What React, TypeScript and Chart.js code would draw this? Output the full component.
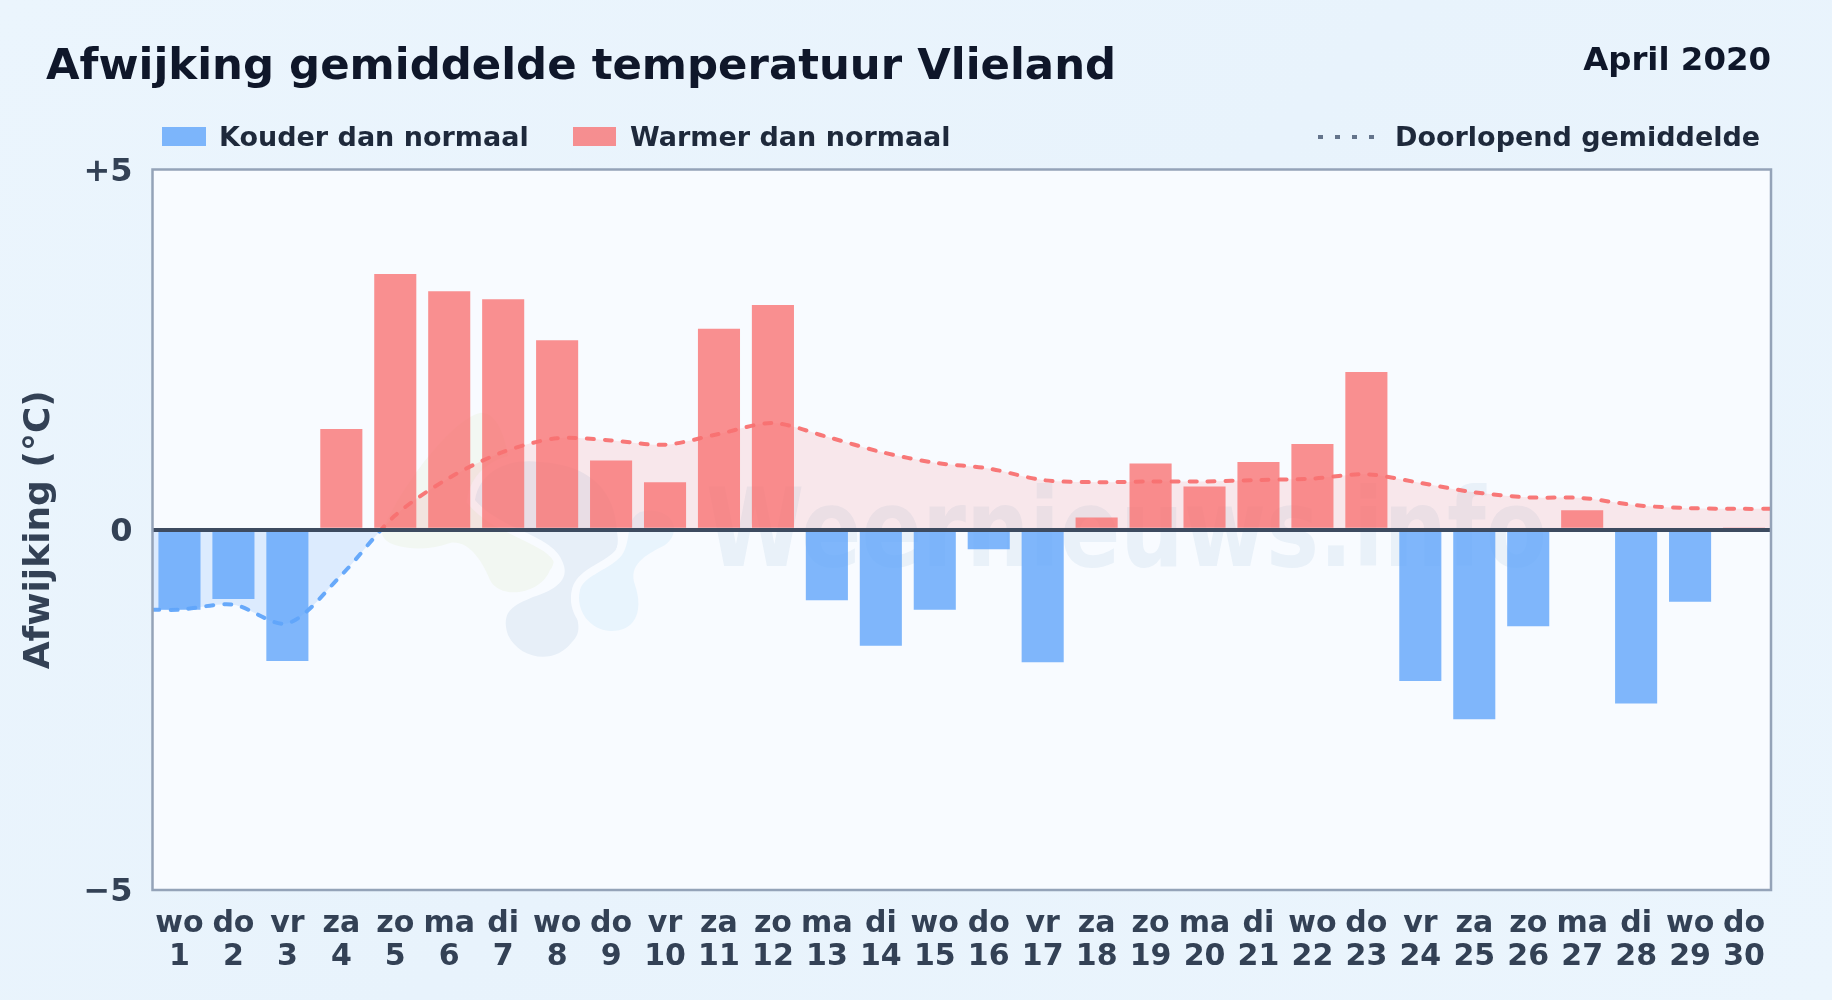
import React, { useEffect, useRef } from "react";
import { Chart, registerables } from "chart.js";

Chart.register(...registerables);

const weekdays = ["wo","do","vr","za","zo","ma","di","wo","do","vr","za","zo","ma","di","wo","do","vr","za","zo","ma","di","wo","do","vr","za","zo","ma","di","wo","do"];
const days = ["1","2","3","4","5","6","7","8","9","10","11","12","13","14","15","16","17","18","19","20","21","22","23","24","25","26","27","28","29","30"];
const deviation = [-1.11,-0.96,-1.82,1.40,3.55,3.31,3.20,2.63,0.96,0.66,2.79,3.12,-0.98,-1.61,-1.11,-0.27,-1.84,0.17,0.92,0.60,0.94,1.19,2.19,-2.10,-2.63,-1.34,0.27,-2.41,-1.00,0.03];
const runningMean = [-1.11,-1.04,-1.30,-0.63,0.20,0.72,1.08,1.27,1.24,1.18,1.33,1.48,1.29,1.08,0.93,0.85,0.69,0.66,0.67,0.67,0.69,0.71,0.77,0.65,0.52,0.45,0.44,0.34,0.30,0.29];
const yTickValues = [-5, 0, 5];
const yTickLabels = ["−5", "0", "+5"];
const titleText = "Afwijking gemiddelde temperatuur Vlieland";
const periodText = "April 2020";
const legendCold = "Kouder dan normaal";
const legendWarm = "Warmer dan normaal";
const legendMean = "Doorlopend gemiddelde";
const yAxisTitle = "Afwijking (°C)";
const watermark = "Weernieuws.info";

const FONT = '"DejaVu Sans", sans-serif';
const PLOT_BG = "#f8fbff";

const blob = (c: CanvasRenderingContext2D, color: string, pts: number[][], halo = false) => {
  c.beginPath();
  c.moveTo(pts[0][0], pts[0][1]);
  for (let i = 1; i < pts.length; i++) {
    const p = pts[i];
    c.bezierCurveTo(p[0], p[1], p[2], p[3], p[4], p[5]);
  }
  c.closePath();
  if (halo) {
    c.strokeStyle = PLOT_BG;
    c.lineWidth = 16;
    c.stroke();
  }
  c.fillStyle = color;
  c.fill();
};

const decorPlugin = {
  id: "decor",
  beforeDraw(chart: any) {
    const c = chart.ctx as CanvasRenderingContext2D;
    const a = chart.chartArea;
    c.save();
    c.fillStyle = PLOT_BG;
    c.fillRect(a.left, a.top, a.right - a.left, a.bottom - a.top);
    // logo blobs of the watermark
    blob(c, "#f2f7f2", [[385,525],[400,490,450,420,480,413],[500,410,510,450,510,480],[553,530,560,560,550,570],[540,595,500,600,490,580],[480,555,465,540,450,543],[430,550,410,550,395,545],[380,540,380,530,385,525]]);
    blob(c, "#e7eff8", [[475,500],[480,470,510,458,540,462],[590,465,615,490,617,532],[620,548,615,558,600,567],[580,575,570,585,572,600],[575,615,585,630,572,642],[555,665,520,660,508,635],[500,610,515,605,533,597],[555,590,570,580,563,563],[555,535,500,530,475,500]], true);
    blob(c, "#e8f4fd", [[640,512],[670,505,685,530,665,545],[645,555,628,565,635,585],[645,615,632,632,610,631],[590,630,575,610,580,590],[584,575,610,570,622,555],[632,540,625,520,640,512]], true);
    c.translate(706, 566);
    c.scale(0.825, 1);
    c.font = `bold 108px ${FONT}`;
    c.fillStyle = "rgba(30,110,170,0.065)";
    c.textAlign = "left";
    c.textBaseline = "alphabetic";
    c.fillText(watermark, 0, 0);
    c.restore();
  },
  afterDraw(chart: any) {
    const c = chart.ctx as CanvasRenderingContext2D;
    const a = chart.chartArea;
    c.save();
    c.strokeStyle = "#94a3b8";
    c.lineWidth = 2.5;
    c.strokeRect(a.left, a.top, a.right - a.left, a.bottom - a.top);

    c.textBaseline = "alphabetic";
    c.textAlign = "left";
    c.fillStyle = "#0f172a";
    c.font = `bold 43.4px ${FONT}`;
    c.fillText(titleText, 46, 79);
    c.textAlign = "right";
    c.font = `bold 32.4px ${FONT}`;
    c.fillText(periodText, 1771, 70);

    c.textAlign = "left";
    c.font = `bold 27px ${FONT}`;
    c.fillStyle = "rgba(96,165,250,0.8)";
    c.fillRect(162, 127, 44, 19);
    c.fillStyle = "rgba(248,113,113,0.78)";
    c.fillRect(573, 127, 43, 19);
    c.fillStyle = "#1e293b";
    c.fillText(legendCold, 219, 146);
    c.fillText(legendWarm, 630, 146);
    c.fillText(legendMean, 1395, 146);
    c.strokeStyle = "#64748b";
    c.lineWidth = 4;
    c.setLineDash([5, 12]);
    c.beginPath();
    c.moveTo(1318, 137);
    c.lineTo(1376, 137);
    c.stroke();
    c.restore();
  },
};

export default function App() {
  const ref = useRef<HTMLCanvasElement>(null);
  useEffect(() => {
    const lineData = [
      { x: 0.5, y: runningMean[0] },
      ...runningMean.map((y, i) => ({ x: i + 1, y })),
      { x: 30.5, y: runningMean[29] },
    ];
    const chart = new Chart(ref.current!, {
      type: "bar",
      data: {
        datasets: [
          {
            type: "line",
            label: legendMean,
            data: lineData,
            order: 0,
            tension: 0.3,
            pointRadius: 0,
            borderWidth: 4,
            borderDash: [7, 11],
            borderCapStyle: "round",
            borderColor: (ctx: any) => {
              const { chart: ch } = ctx;
              const a = ch.chartArea;
              if (!a) return "#f87171";
              const z = ch.scales.y.getPixelForValue(0);
              const t = (z - a.top) / (a.bottom - a.top);
              const g = ch.ctx.createLinearGradient(0, a.top, 0, a.bottom);
              g.addColorStop(0, "rgba(248,113,113,0.95)");
              g.addColorStop(t, "rgba(248,113,113,0.95)");
              g.addColorStop(t, "rgba(96,165,250,0.95)");
              g.addColorStop(1, "rgba(96,165,250,0.95)");
              return g;
            },
            fill: {
              target: { value: 0 },
              above: "rgba(248,113,113,0.14)",
              below: "rgba(96,165,250,0.18)",
            },
          } as any,
          {
            type: "bar",
            label: "Afwijking",
            data: deviation.map((y, i) => ({ x: i + 1, y })),
            order: 1,
            barPercentage: 0.78,
            categoryPercentage: 1,
            backgroundColor: deviation.map((v) =>
              v < 0 ? "rgba(96,165,250,0.8)" : "rgba(248,113,113,0.78)"
            ),
            borderWidth: 0,
          } as any,
        ],
      },
      options: {
        responsive: false,
        animation: false,
        devicePixelRatio: 1,
        layout: { padding: { left: 0, top: 169.5, right: 61, bottom: 0 } },
        plugins: {
          legend: { display: false },
          title: { display: false },
          tooltip: { enabled: false },
          filler: { drawTime: "beforeDatasetsDraw" },
        } as any,
        scales: {
          x: {
            type: "linear",
            offset: false,
            min: 0.5,
            max: 30.5,
            grid: { display: false, offset: false },
            border: { display: false },
            afterBuildTicks: (s: any) => { s.ticks = days.map((d) => ({ value: Number(d) })); },
            ticks: {
              autoSkip: false,
              maxRotation: 0,
              minRotation: 0,
              padding: 10,
              color: "#334155",
              font: { family: FONT, weight: "bold", size: 30, lineHeight: 1.09 },
              callback: (v: any) => [weekdays[Number(v) - 1], days[Number(v) - 1]],
            },
            afterFit: (s: any) => { s.height = 110; },
          },
          y: {
            type: "linear",
            min: -5,
            max: 5,
            grid: {
              z: 1,
              drawTicks: false,
              color: (ctx: any) => (ctx.tick && ctx.tick.value === 0 ? "#3d4b60" : "rgba(0,0,0,0)"),
              lineWidth: 4,
            },
            border: { display: false },
            afterBuildTicks: (s: any) => { s.ticks = yTickValues.map((value) => ({ value })); },
            ticks: {
              padding: 20,
              labelOffset: 3,
              color: "#334155",
              font: { family: FONT, weight: "bold", size: 32, lineHeight: 1.05 },
              callback: (v: any) => yTickLabels[yTickValues.indexOf(Number(v))],
            },
            title: {
              display: true,
              text: yAxisTitle,
              color: "#334155",
              font: { family: FONT, weight: "bold", size: 36 },
              padding: { top: 18, bottom: 0 },
            },
            afterFit: (s: any) => { s.width = 152.5; },
          },
        },
      } as any,
      plugins: [decorPlugin],
    } as any);
    return () => chart.destroy();
  }, []);
  return (
    <div style={{ position: "fixed", left: 0, top: 0, width: 1832, height: 1000, background: "linear-gradient(135deg,#ebf5fd 0%,#e8f3fc 50%,#ebf5fd 100%)" }}>
      <canvas ref={ref} width={1832} height={1000} style={{ display: "block" }} />
    </div>
  );
}
